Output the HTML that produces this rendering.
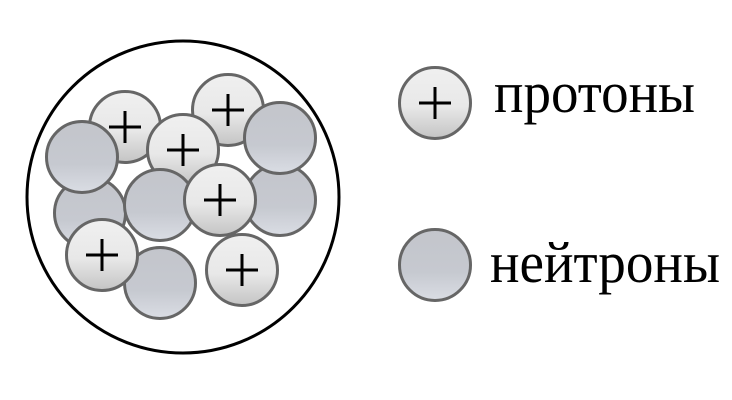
<!DOCTYPE html>
<html><head><meta charset="utf-8"><style>
html,body{margin:0;padding:0;background:#fff;width:732px;height:400px;overflow:hidden}
</style></head><body>
<svg width="732" height="400" viewBox="0 0 732 400" xmlns="http://www.w3.org/2000/svg">
<defs>
<linearGradient id="p" x1="0" y1="0" x2="0" y2="1">
<stop offset="0" stop-color="#f0f0f0"/><stop offset="0.55" stop-color="#e8e8e8"/><stop offset="1" stop-color="#c4c4c4"/>
</linearGradient>
<linearGradient id="n" x1="0" y1="0" x2="0" y2="1">
<stop offset="0" stop-color="#c3c5cb"/><stop offset="0.6" stop-color="#c6c9d0"/><stop offset="1" stop-color="#dadde4"/>
</linearGradient>
<g id="P"><circle r="35.5" fill="url(#p)" stroke="#666" stroke-width="3"/><path d="M-16 0H16M0 -16V16" stroke="#000" stroke-width="3"/></g>
<g id="N"><circle r="35.5" fill="url(#n)" stroke="#666" stroke-width="3"/></g>
</defs>
<circle cx="183" cy="197" r="156" fill="#fff" stroke="#000" stroke-width="3"/>
<use href="#P" x="125" y="127"/>
<use href="#P" x="228" y="110"/>
<use href="#N" x="90" y="213"/>
<use href="#N" x="280" y="200"/>
<use href="#N" x="82" y="157"/>
<use href="#P" x="183" y="150"/>
<use href="#N" x="280" y="138"/>
<use href="#N" x="160" y="205"/>
<use href="#P" x="220" y="200"/>
<use href="#N" x="160" y="283"/>
<use href="#P" x="102" y="255"/>
<use href="#P" x="242" y="270"/>
<use href="#P" x="435" y="103"/>
<use href="#N" x="435" y="265"/>
<text x="494" y="112" font-family="Liberation Serif, serif" font-size="58" textLength="201" lengthAdjust="spacingAndGlyphs">протоны</text>
<text x="490" y="282" font-family="Liberation Serif, serif" font-size="58" textLength="230" lengthAdjust="spacingAndGlyphs">нейтроны</text>
</svg>
</body></html>
